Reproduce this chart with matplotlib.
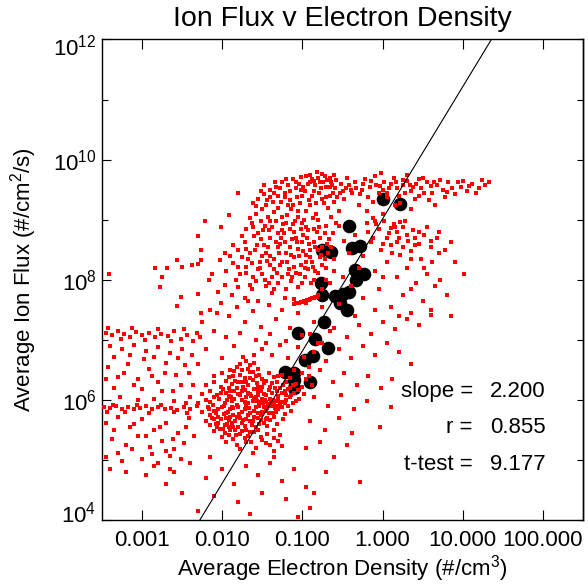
import matplotlib.pyplot as plt
import numpy as np
from matplotlib.ticker import FixedLocator, NullFormatter
from matplotlib.transforms import ScaledTranslation

plt.rcParams["font.family"] = ["Liberation Sans", "DejaVu Sans"]
plt.rcParams["mathtext.fontset"] = "custom"
plt.rcParams["mathtext.rm"] = "Liberation Sans"
plt.rcParams["mathtext.it"] = "Liberation Sans:italic"
plt.rcParams["mathtext.bf"] = "Liberation Sans:bold"

# binned averages (large black dots)
bin_density = [1.02, 1.66, 0.384, 0.176, 0.229, 0.418, 0.526, 0.456, 0.59, 0.469,
               0.171, 0.176, 0.256, 0.323, 0.384, 0.296, 0.362, 0.187, 0.0883, 0.144,
               0.21, 0.136, 0.108, 0.0608, 0.0788, 0.0788, 0.125, 0.0788]
bin_flux = [2.2e9, 1.81e9, 7.8e8, 3.1e8, 2.87e8, 3.35e8, 3.6e8, 1.44e8, 1.24e8, 9.8e7,
            8.7e7, 5.5e7, 5.3e7, 5.7e7, 6.2e7, 4.06e7, 3.1e7, 1.96e7, 1.28e7, 1.02e7,
            7.2e6, 5.3e6, 4.55e6, 2.87e6, 2.77e6, 2.11e6, 1.96e6, 1.55e6]

# fit result
fit_slope = 2.200
fit_log_intercept = 9.014   # log10 flux at density = 1
fit_r = 0.855
fit_ttest = 9.177

# individual samples, read as (log10 density, log10 flux) off the log axes
plume_core = [
    (-1.62, 9.28), (-1.55, 9.35), (-1.48, 9.42), (-1.40, 9.50), (-1.33, 9.55), (-1.25, 9.62),
    (-1.12, 9.68), (-1.02, 9.71), (-0.90, 9.75), (-0.82, 9.80), (-0.75, 9.76), (-0.66, 9.70),
    (-0.58, 9.66), (-1.58, 9.10), (-1.50, 9.18), (-1.43, 9.05), (-1.37, 9.30), (-1.30, 9.20),
    (-1.22, 9.45), (-1.15, 9.33), (-1.08, 9.52), (-1.00, 9.40), (-0.93, 9.60), (-0.86, 9.48),
    (-0.78, 9.62), (-0.70, 9.55), (-0.62, 9.45), (-1.70, 8.85), (-1.63, 8.95), (-1.55, 8.78),
    (-1.47, 8.90), (-1.40, 8.70), (-1.33, 8.98), (-1.26, 8.82), (-1.19, 9.08), (-1.12, 8.92),
    (-1.05, 9.15), (-0.98, 9.00), (-0.90, 9.25), (-0.83, 9.10), (-0.76, 9.35), (-0.68, 9.20),
    (-0.60, 9.30), (-1.80, 8.50), (-1.72, 8.62), (-1.65, 8.45), (-1.57, 8.58), (-1.50, 8.40),
    (-1.43, 8.55), (-1.36, 8.35), (-1.28, 8.60), (-1.21, 8.45), (-1.13, 8.68), (-1.06, 8.52),
    (-0.99, 8.75), (-0.92, 8.60), (-0.85, 8.85), (-0.78, 8.70), (-0.70, 8.90), (-0.62, 8.78),
    (-1.95, 8.15), (-1.86, 8.28), (-1.78, 8.10), (-1.70, 8.22), (-1.62, 8.05), (-1.55, 8.18),
    (-1.47, 8.00), (-1.40, 8.25), (-1.32, 8.12), (-1.25, 8.30), (-1.17, 8.18), (-1.10, 8.38),
    (-1.02, 8.25), (-0.95, 8.42), (-0.88, 8.30), (-0.80, 8.50), (-0.72, 8.35), (-0.64, 8.55),
    (-2.05, 7.80), (-1.97, 7.92), (-1.88, 7.75), (-1.80, 7.88), (-1.72, 7.70), (-1.63, 7.85),
    (-1.55, 7.65), (-1.46, 7.90), (-1.38, 7.78), (-1.30, 7.95), (-1.22, 7.70), (-1.14, 7.98),
    (-1.05, 7.88), (-0.97, 8.05), (-0.89, 7.95), (-0.80, 8.12), (-0.70, 8.00), (-0.60, 8.15),
    (-1.35, 9.12), (-1.18, 9.25), (-1.03, 9.28), (-0.95, 9.15), (-1.27, 8.70), (-1.10, 8.80),
    (-0.96, 8.88), (-1.42, 8.82), (-1.20, 8.95), (-1.06, 9.05), (-0.88, 9.40), (-0.80, 9.00),
    (-1.52, 8.68), (-1.00, 8.62), (-0.88, 9.68), (-0.72, 9.72), (-1.18, 9.58), (-0.64, 9.62),
]
plume_fill = [
    (-1.58, 9.22), (-1.45, 9.25), (-1.30, 9.40), (-1.25, 9.05), (-1.14, 9.18), (-1.07, 9.38),
    (-0.99, 9.55), (-0.92, 9.33), (-0.85, 9.65), (-0.79, 9.45), (-0.73, 9.28), (-0.66, 9.40),
    (-0.59, 9.52), (-0.55, 9.15), (-1.66, 9.02), (-1.52, 8.98), (-1.38, 8.88), (-1.33, 8.62),
    (-1.23, 8.78), (-1.16, 8.55), (-1.09, 8.98), (-1.02, 8.85), (-0.94, 8.70), (-0.87, 9.02),
    (-0.82, 8.80), (-0.75, 8.55), (-0.67, 8.68), (-0.58, 8.95), (-1.76, 8.72), (-1.68, 8.35),
    (-1.60, 8.72), (-1.53, 8.30), (-1.45, 8.45), (-1.38, 8.05), (-1.29, 8.45), (-1.19, 8.30),
    (-1.13, 8.05), (-1.04, 8.40), (-0.97, 8.20), (-0.90, 8.50), (-0.84, 8.15), (-0.76, 8.25),
    (-0.68, 8.45), (-0.60, 8.35), (-1.90, 8.40), (-1.83, 8.00), (-1.75, 8.38), (-1.66, 7.92),
    (-1.58, 7.98), (-1.50, 8.10), (-1.42, 7.95), (-1.35, 7.85), (-1.26, 8.05), (-1.20, 7.85),
    (-1.08, 8.12), (-1.00, 7.95), (-0.93, 8.18), (-0.85, 8.00), (-0.76, 7.85), (-0.66, 7.95),
    (-1.48, 9.58), (-1.40, 9.38), (-1.28, 9.52), (-1.20, 9.68), (-1.08, 9.62), (-0.96, 9.72),
    (-0.84, 9.58), (-0.69, 9.66), (-0.60, 9.74), (-0.53, 9.45),
    (-1.52, 9.48), (-1.44, 9.33), (-1.36, 9.45), (-1.27, 9.30), (-1.16, 9.48), (-1.12, 9.25),
    (-1.04, 9.60), (-0.97, 9.48), (-0.90, 9.62), (-0.83, 9.28), (-0.77, 9.52), (-0.71, 9.38),
    (-0.63, 9.58), (-0.57, 9.38), (-1.62, 8.88), (-1.49, 8.82), (-1.41, 8.98), (-1.31, 8.78),
    (-1.24, 8.92), (-1.15, 8.85), (-1.08, 8.70), (-1.01, 8.95), (-0.93, 8.82), (-0.86, 8.62),
    (-0.79, 8.88), (-0.72, 8.78), (-0.64, 9.05), (-1.70, 8.52), (-1.59, 8.50), (-1.48, 8.58),
    (-1.40, 8.40), (-1.31, 8.55), (-1.22, 8.62), (-1.14, 8.42), (-1.07, 8.62), (-0.99, 8.48),
    (-0.91, 8.38), (-0.84, 8.55), (-0.77, 8.42), (-0.69, 8.60), (-1.80, 8.22), (-1.71, 8.12),
    (-1.63, 8.28), (-1.53, 8.20), (-1.44, 8.32), (-1.35, 8.18), (-1.28, 8.25), (-1.18, 8.10),
    (-1.10, 8.22), (-1.03, 8.10), (-0.95, 8.30), (-0.87, 8.22), (-0.78, 8.38), (-0.70, 8.20),
    (-1.34, 9.62), (-1.02, 9.50), (-0.80, 9.70), (-1.22, 9.38), (-0.74, 9.62), (-0.66, 9.55),
]
plume_band = [
    (-0.52, 9.60), (-0.45, 9.70), (-0.40, 9.50), (-0.35, 9.62), (-0.28, 9.42), (-0.22, 9.68),
    (-0.16, 9.55), (-0.10, 9.72), (-0.05, 9.45), (0.02, 9.62), (0.08, 9.52), (0.14, 9.70),
    (0.20, 9.40), (0.25, 9.58), (0.31, 9.65), (0.36, 9.48), (0.42, 9.60), (0.48, 9.52),
    (0.55, 9.63), (0.62, 9.45), (0.68, 9.58), (0.75, 9.50), (0.82, 9.62), (0.90, 9.42),
    (0.98, 9.55), (1.05, 9.48), (1.12, 9.60), (1.20, 9.52), (1.28, 9.58), (1.33, 9.62),
    (-0.48, 9.35), (-0.30, 9.25), (-0.12, 9.30), (0.05, 9.38), (0.22, 9.28), (0.40, 9.35),
    (0.58, 9.32), (0.78, 9.38), (1.00, 9.65), (0.30, 9.75), (-0.02, 9.78), (0.50, 9.70),
    (-0.50, 9.48), (-0.42, 9.58), (-0.33, 9.52), (-0.25, 9.60), (-0.18, 9.38), (-0.08, 9.58),
    (0.00, 9.50), (0.11, 9.60), (0.18, 9.52), (0.28, 9.44), (0.34, 9.57), (0.45, 9.68),
    (0.52, 9.44), (0.60, 9.56), (0.72, 9.66), (0.86, 9.52), (0.94, 9.62), (1.08, 9.56),
    (1.16, 9.45), (1.24, 9.66), (0.15, 9.25), (0.35, 9.18), (0.65, 9.25), (-0.20, 9.15),
    (0.00, 9.10), (-0.46, 9.52), (-0.38, 9.44), (-0.26, 9.50), (-0.14, 9.64), (-0.03, 9.56),
    (0.06, 9.44), (0.17, 9.62), (0.26, 9.66), (0.38, 9.54), (0.46, 9.40), (0.64, 9.62),
    (0.80, 9.46),
]
right_mid = [
    (-0.20, 8.95), (-0.12, 9.02), (-0.05, 8.85), (0.02, 8.98), (0.08, 8.78), (0.14, 8.92),
    (0.20, 8.70), (0.26, 8.88), (0.32, 8.65), (0.38, 8.82), (0.45, 8.60), (0.52, 8.75),
    (0.60, 8.55), (0.68, 8.70), (0.78, 8.50), (0.85, 8.62), (-0.15, 8.62), (-0.02, 8.50),
    (0.10, 8.58), (0.22, 8.42), (0.35, 8.48), (0.48, 8.35), (0.62, 8.30), (-0.25, 8.40),
    (0.05, 8.30), (0.30, 8.20), (0.55, 8.10), (-0.10, 8.15), (0.18, 8.05), (0.42, 7.95),
    (0.65, 7.90), (-0.05, 7.85), (0.25, 7.75), (0.50, 7.65), (0.10, 7.55), (0.35, 7.45),
    (0.60, 7.50), (0.85, 7.40), (0.72, 8.00), (0.90, 8.30), (1.02, 8.10), (0.15, 8.88),
    (-0.55, 8.90), (-0.48, 8.65), (-0.42, 8.45), (-0.35, 8.75), (-0.30, 8.20), (-0.50, 8.05),
    (-0.40, 7.90), (-0.25, 7.70), (-0.55, 7.60), (-0.35, 7.40), (-0.08, 8.92), (0.05, 8.70),
    (0.18, 8.80), (0.28, 8.98), (0.40, 8.70), (0.55, 8.88), (0.70, 8.80), (-0.18, 8.80),
    (0.12, 8.45), (0.40, 8.58), (0.25, 8.55), (0.70, 8.45), (0.00, 8.05), (0.35, 7.85),
    (0.80, 7.75), (0.20, 7.40), (-0.10, 7.50), (0.52, 8.20), (-0.10, 8.98), (0.10, 8.86),
    (0.22, 8.96), (0.30, 8.75), (0.45, 8.80), (-0.12, 8.70), (0.00, 8.60), (0.18, 8.62),
    (0.35, 8.35), (0.60, 8.65),
]
plume_lower = [
    (-2.15, 7.50), (-2.02, 7.62), (-1.92, 7.40), (-1.82, 7.55), (-1.72, 7.30), (-1.62, 7.48),
    (-1.52, 7.22), (-1.42, 7.58), (-1.33, 7.35), (-1.25, 7.50), (-1.15, 7.20), (-1.05, 7.45),
    (-0.95, 7.62), (-0.85, 7.30), (-0.75, 7.55), (-0.65, 7.15), (-2.10, 7.15), (-1.95, 7.05),
    (-1.78, 7.12), (-1.58, 7.00), (-1.40, 7.10), (-1.20, 6.98), (-1.00, 7.08), (-0.80, 6.95),
    (-2.25, 7.30), (-1.68, 7.65), (-1.10, 7.68), (-1.50, 6.85), (-1.38, 6.75), (-1.28, 6.92),
    (-1.18, 6.70), (-1.05, 6.88), (-0.98, 6.72), (-1.60, 6.75), (-1.45, 6.95), (-2.00, 6.70),
    (-2.20, 6.85), (-1.85, 6.90),
]
upper_left = [
    (-1.80, 9.44), (-1.92, 9.08), (-2.02, 8.88), (-2.21, 8.98), (-2.30, 8.73), (-2.26, 8.49),
    (-2.57, 8.33), (-2.50, 8.21), (-2.84, 8.19), (-2.75, 8.05), (-3.41, 8.10), (-2.38, 8.24),
    (-2.30, 8.27), (-2.26, 8.33), (-2.52, 7.71), (-2.57, 7.56), (-2.30, 7.77), (-2.17, 7.99),
    (-2.13, 8.10), (-2.03, 8.33), (-1.97, 8.44), (-1.86, 8.58), (-2.78, 7.88), (-2.69, 8.19),
    (-2.26, 7.44), (-2.07, 7.44),
]
left_bands = [
    (-3.45, 7.12), (-3.38, 7.08), (-3.30, 7.15), (-3.22, 7.10), (-3.15, 7.05), (-3.08, 7.13),
    (-3.00, 7.08), (-2.92, 7.12), (-2.84, 7.04), (-2.76, 7.10), (-2.68, 7.06), (-2.60, 7.14),
    (-2.52, 7.02), (-2.44, 7.08), (-2.36, 6.98), (-2.28, 7.05), (-3.40, 6.90), (-3.25, 6.85),
    (-3.10, 6.92), (-2.95, 6.82), (-2.80, 6.88), (-2.65, 6.78), (-2.50, 6.85), (-2.38, 6.75),
    (-3.42, 6.55), (-3.30, 6.38), (-3.18, 6.60), (-3.05, 6.35), (-2.92, 6.52), (-2.80, 6.30),
    (-2.70, 6.62), (-2.58, 6.42), (-2.46, 6.58), (-2.36, 6.25), (-3.35, 6.20), (-3.00, 6.18),
    (-2.62, 6.15), (-3.48, 5.88), (-3.40, 5.86), (-3.32, 5.89), (-3.25, 5.85), (-3.18, 5.88),
    (-3.10, 5.84), (-3.02, 5.87), (-2.95, 5.90), (-2.88, 5.85), (-2.80, 5.88), (-2.72, 5.84),
    (-2.64, 5.87), (-2.56, 5.83), (-2.48, 5.88), (-2.40, 5.85), (-2.32, 5.90), (-3.45, 5.62),
    (-3.30, 5.72), (-3.15, 5.55), (-3.00, 5.68), (-2.85, 5.50), (-2.70, 5.62), (-2.55, 5.45),
    (-2.42, 5.70), (-3.38, 5.35), (-3.20, 5.25), (-3.05, 5.40), (-2.90, 5.22), (-2.75, 5.32),
    (-2.60, 5.18), (-2.48, 5.28), (-3.45, 5.05), (-3.25, 4.98), (-3.00, 5.02), (-2.80, 4.95),
    (-2.65, 5.06), (-3.40, 4.85), (-2.95, 4.75),
    (-3.42, 7.20), (-3.26, 7.02), (-3.12, 7.20), (-2.96, 7.00), (-2.80, 7.18), (-2.64, 6.98),
    (-2.48, 7.18), (-2.32, 7.12), (-3.35, 6.72), (-3.15, 6.75), (-2.98, 6.68), (-2.85, 6.72),
    (-2.72, 6.45), (-2.55, 6.70), (-2.42, 6.45), (-2.30, 6.60), (-3.45, 6.35), (-3.22, 6.45),
    (-3.10, 6.25), (-2.88, 6.40), (-2.75, 6.15), (-2.52, 6.25), (-2.40, 6.05), (-3.28, 6.05),
    (-3.05, 6.00), (-2.85, 6.02), (-2.60, 5.98), (-2.45, 5.95), (-3.44, 5.80), (-3.36, 5.92),
    (-3.21, 5.80), (-3.06, 5.92), (-2.91, 5.78), (-2.76, 5.92), (-2.60, 5.80), (-2.44, 5.78),
    (-3.35, 5.50), (-3.10, 5.60), (-2.95, 5.40), (-2.78, 5.55), (-2.62, 5.35), (-2.45, 5.55),
    (-2.35, 5.40), (-3.30, 5.12), (-3.12, 5.18), (-2.88, 5.10), (-2.70, 5.15), (-2.52, 5.02),
    (-3.20, 4.80), (-2.65, 4.85),
]
dense_core = [
    (-1.74, 6.72), (-1.70, 6.65), (-1.78, 6.60), (-1.66, 6.58), (-1.82, 6.55), (-1.60, 6.62),
    (-1.90, 6.50), (-1.55, 6.52), (-2.10, 6.40), (-2.00, 6.45), (-1.92, 6.38), (-1.85, 6.48),
    (-1.78, 6.42), (-1.72, 6.36), (-1.65, 6.46), (-1.58, 6.40), (-1.50, 6.35), (-1.42, 6.44),
    (-1.35, 6.38), (-1.25, 6.42), (-1.15, 6.36), (-2.20, 6.25), (-2.10, 6.30), (-2.02, 6.22),
    (-1.95, 6.32), (-1.88, 6.26), (-1.81, 6.20), (-1.75, 6.30), (-1.68, 6.24), (-1.62, 6.33),
    (-1.55, 6.21), (-1.48, 6.28), (-1.40, 6.22), (-1.32, 6.30), (-1.24, 6.24), (-1.16, 6.20),
    (-1.08, 6.27), (-1.00, 6.22), (-2.25, 6.10), (-2.15, 6.15), (-2.07, 6.08), (-1.99, 6.18),
    (-1.92, 6.06), (-1.85, 6.14), (-1.78, 6.08), (-1.72, 6.17), (-1.65, 6.10), (-1.58, 6.05),
    (-1.52, 6.15), (-1.45, 6.08), (-1.38, 6.12), (-1.30, 6.06), (-1.22, 6.14), (-1.14, 6.08),
    (-1.05, 6.16), (-0.98, 6.10), (-2.30, 5.95), (-2.20, 6.00), (-2.12, 5.92), (-2.04, 6.02),
    (-1.96, 5.95), (-1.89, 6.04), (-1.82, 5.92), (-1.75, 6.00), (-1.68, 5.94), (-1.61, 6.03),
    (-1.54, 5.96), (-1.47, 5.99), (-1.43, 5.93), (-1.39, 5.96), (-1.36, 5.90), (-1.33, 5.98),
    (-1.28, 5.93), (-1.20, 6.00), (-1.12, 5.95), (-1.04, 6.02), (-2.25, 5.80), (-2.16, 5.85),
    (-2.08, 5.78), (-2.00, 5.88), (-1.93, 5.80), (-1.86, 5.86), (-1.79, 5.76), (-1.72, 5.84),
    (-1.65, 5.78), (-1.58, 5.88), (-1.51, 5.80), (-1.44, 5.86), (-1.37, 5.78), (-1.30, 5.84),
    (-1.22, 5.76), (-1.14, 5.82), (-2.20, 5.65), (-2.13, 5.70), (-2.08, 5.60), (-2.02, 5.68),
    (-1.97, 5.58), (-1.92, 5.66), (-1.87, 5.55), (-1.82, 5.72), (-1.76, 5.62), (-1.70, 5.68),
    (-1.63, 5.58), (-1.56, 5.70), (-1.48, 5.62), (-1.40, 5.66), (-1.32, 5.60), (-1.24, 5.68),
    (-2.10, 5.48), (-2.03, 5.52), (-1.96, 5.45), (-1.90, 5.50), (-1.83, 5.42), (-1.76, 5.48),
    (-1.68, 5.40), (-1.60, 5.46), (-1.52, 5.38), (-1.44, 5.44), (-1.36, 5.36), (-1.28, 5.42),
    (-1.95, 5.30), (-1.82, 5.25), (-1.70, 5.30), (-1.58, 5.20), (-1.46, 5.28), (-1.35, 5.15),
    (-1.25, 5.24), (-1.62, 5.12), (-1.10, 6.50), (-1.00, 6.45), (-0.92, 6.55), (-0.95, 6.35),
    (-0.88, 6.25),
]
core_fill = [
    (-1.76, 6.50), (-1.68, 6.52), (-1.62, 6.47), (-1.86, 6.40), (-1.70, 6.30), (-1.57, 6.28),
    (-1.45, 6.32), (-1.30, 6.40), (-1.20, 6.30), (-1.92, 6.20), (-1.84, 6.32), (-1.74, 6.22),
    (-1.60, 6.18), (-1.50, 6.22), (-1.42, 6.16), (-1.34, 6.20), (-1.26, 6.12), (-1.18, 6.18),
    (-1.10, 6.12), (-2.10, 6.05), (-1.95, 6.12), (-1.88, 5.98), (-1.80, 6.10), (-1.70, 6.04),
    (-1.62, 5.98), (-1.55, 6.08), (-1.49, 5.94), (-1.41, 6.02), (-1.35, 5.95), (-1.31, 6.00),
    (-1.25, 5.97), (-1.16, 6.05), (-1.08, 5.98), (-2.18, 5.88), (-2.05, 5.85), (-1.98, 5.90),
    (-1.90, 5.84), (-1.80, 5.88), (-1.70, 5.90), (-1.60, 5.82), (-1.54, 5.90), (-1.46, 5.82),
    (-1.40, 5.90), (-1.34, 5.86), (-1.26, 5.88), (-1.18, 5.90), (-2.15, 5.75), (-2.05, 5.72),
    (-1.98, 5.76), (-1.90, 5.72), (-1.84, 5.65), (-1.78, 5.70), (-1.68, 5.74), (-1.60, 5.72),
    (-1.52, 5.74), (-1.44, 5.70), (-1.35, 5.72), (-2.15, 5.58), (-2.05, 5.62), (-1.99, 5.52),
    (-1.94, 5.60), (-1.88, 5.62), (-1.80, 5.55), (-1.72, 5.56), (-1.66, 5.64), (-1.58, 5.55),
    (-1.52, 5.66), (-1.44, 5.56), (-1.36, 5.50), (-2.00, 5.38), (-1.86, 5.35), (-1.72, 5.36),
    (-1.64, 5.30), (-1.50, 5.34), (-1.40, 5.25), (-1.30, 5.32), (-1.78, 5.18),
    (-1.80, 6.30), (-1.66, 6.36), (-1.54, 6.42), (-1.38, 6.28), (-1.28, 6.20), (-1.12, 6.24),
    (-2.02, 6.12), (-1.90, 6.14), (-1.76, 6.14), (-1.68, 6.12), (-1.56, 6.14), (-1.48, 6.10),
    (-1.32, 6.14), (-1.20, 6.08), (-2.15, 5.96), (-1.94, 6.00), (-1.85, 6.02), (-1.72, 5.96),
    (-1.64, 6.06), (-1.57, 5.98), (-1.50, 6.02), (-1.45, 5.97), (-1.41, 5.93), (-1.37, 6.00),
    (-1.30, 5.90), (-1.22, 5.95), (-2.10, 5.82), (-1.95, 5.78), (-1.88, 5.88), (-1.76, 5.80),
    (-1.67, 5.86), (-1.56, 5.78), (-1.48, 5.88), (-1.42, 5.78), (-1.33, 5.80), (-2.10, 5.68),
    (-1.95, 5.70), (-1.86, 5.75), (-1.74, 5.66), (-1.62, 5.64), (-1.54, 5.60), (-1.46, 5.68),
    (-2.07, 5.55), (-1.92, 5.55), (-1.84, 5.50), (-1.70, 5.50), (-1.56, 5.50), (-1.92, 5.42),
    (-1.78, 5.44), (-1.66, 5.46),
]
trail = [
    (-1.10, 7.60), (-1.08, 7.61), (-1.06, 7.61), (-1.04, 7.62), (-1.02, 7.63), (-1.00, 7.63),
    (-0.98, 7.64), (-0.96, 7.65), (-0.94, 7.66), (-0.92, 7.67), (-0.90, 7.68), (-0.88, 7.69),
    (-0.86, 7.70), (-0.84, 7.71), (-0.82, 7.72), (-0.80, 7.74),
]
bottom_sparse = [
    (-2.85, 4.90), (-2.60, 4.80), (-2.40, 4.95), (-2.20, 4.70), (-2.00, 4.85), (-1.85, 4.60),
    (-1.70, 4.90), (-1.55, 4.75), (-1.40, 4.95), (-1.25, 4.65), (-1.10, 4.85), (-0.95, 4.55),
    (-2.50, 4.45), (-2.10, 4.40), (-1.80, 4.30), (-1.50, 4.45), (-1.20, 4.35), (-0.90, 4.20),
    (-2.30, 4.15), (-1.65, 4.10), (-1.05, 4.05), (-2.70, 4.60), (-1.35, 5.05), (-2.15, 5.05),
]
right_sparse = [
    (-0.90, 7.10), (-0.75, 6.95), (-0.60, 7.20), (-0.45, 7.05), (-0.30, 7.25), (-0.15, 7.10),
    (0.00, 7.30), (0.15, 7.18), (0.30, 7.35), (0.45, 7.25), (0.60, 7.42), (-0.85, 6.80),
    (-0.70, 6.65), (-0.55, 6.85), (-0.40, 6.70), (-0.25, 6.90), (-0.10, 6.75), (0.05, 6.95),
    (0.20, 6.80), (0.35, 6.60), (-0.92, 6.40), (-0.78, 6.50), (-0.62, 6.30), (-0.48, 6.45),
    (-0.32, 6.25), (-0.18, 6.40), (-0.02, 6.20), (0.12, 6.35), (-0.85, 6.05), (-0.68, 5.90),
    (-0.52, 6.08), (-0.36, 5.85), (-0.20, 5.98), (0.10, 5.88), (-0.90, 5.65), (-0.72, 5.50),
    (-0.55, 5.70), (-0.38, 5.45), (-0.03, 5.54), (-0.95, 5.20), (-0.78, 5.30), (-0.60, 5.05),
    (-0.45, 5.25), (-0.28, 4.63), (-0.70, 4.80), (-0.85, 4.45),
]

x_ticks = [1e-3, 1e-2, 1e-1, 1e0, 1e1, 1e2]
x_tick_labels = ["0.001", "0.010", "0.100", "1.000", "10.000", "100.000"]
y_ticks = [1e4, 1e6, 1e8, 1e10, 1e12]
y_tick_labels = [r"$\mathregular{10^{4}}$", r"$\mathregular{10^{6}}$", r"$\mathregular{10^{8}}$",
                 r"$\mathregular{10^{10}}$", r"$\mathregular{10^{12}}$"]
y_minor = [1e5, 1e7, 1e9, 1e11]
x_lim = (10 ** -3.5, 10 ** 2.5)
y_lim = (1e4, 1e12)

fig = plt.figure(figsize=(5.88, 5.84), dpi=100)
ax = fig.add_axes([0.1735, 0.1096, 0.818, 0.8228])
ax.set_xscale("log")
ax.set_yscale("log")

ax.plot(bin_density, bin_flux, "o", color="black", ms=9.8, mew=0, zorder=2)

cloud = np.array(plume_core + plume_fill + plume_band + right_mid + plume_lower + upper_left
                 + left_bands + dense_core + core_fill + trail + bottom_sparse + right_sparse)
ax.plot(10 ** cloud[:, 0], 10 ** cloud[:, 1], "s", color="#ff0000", ms=2.2, mew=0, zorder=3)

fit_x = np.array(x_lim)
fit_y = 10 ** (fit_log_intercept + fit_slope * np.log10(fit_x))
ax.plot(fit_x, fit_y, color="black", lw=0.8, zorder=4)

ax.set_xlim(*x_lim)
ax.set_ylim(*y_lim)

ax.xaxis.set_major_locator(FixedLocator(x_ticks))
ax.xaxis.set_minor_locator(FixedLocator([]))
ax.set_xticklabels(x_tick_labels)
ax.yaxis.set_major_locator(FixedLocator(y_ticks))
ax.yaxis.set_minor_locator(FixedLocator(y_minor))
ax.yaxis.set_minor_formatter(NullFormatter())
ax.set_yticklabels(y_tick_labels)

ax.tick_params(axis="x", which="major", direction="in", length=7, width=0.8,
               top=True, labelsize=16, pad=7.5)
ax.tick_params(axis="y", which="major", direction="in", length=6.5, width=0.8,
               right=False, labelsize=16, pad=4)
ax.tick_params(axis="y", which="minor", direction="in", length=4.5, width=0.8, right=False)
right = ax.secondary_yaxis("right")
right.yaxis.set_major_locator(FixedLocator(y_ticks + y_minor))
right.yaxis.set_minor_locator(FixedLocator([]))
right.tick_params(direction="in", length=4, width=0.8, labelright=False)
right.spines["right"].set_linewidth(1.0)
for s in ax.spines.values():
    s.set_linewidth(1.0)

# IDL keeps the end labels inside the axis span
ticks = ax.yaxis.get_major_ticks()
lab_lo, lab_hi = ticks[0].label1, ticks[-1].label1
lab_lo.set_transform(lab_lo.get_transform() + ScaledTranslation(0, 0.075, fig.dpi_scale_trans))
lab_hi.set_transform(lab_hi.get_transform() + ScaledTranslation(0, -0.06, fig.dpi_scale_trans))

ax.set_title("Ion Flux v Electron Density", fontsize=20.5, pad=10)
ax.set_xlabel(r"Average Electron Density (#/cm$^\mathregular{3}$)", fontsize=16)
ax.xaxis.set_label_coords(0.5, -0.069)
ax.set_ylabel(r"Average Ion Flux (#/cm$^\mathregular{2}$/s)", fontsize=16)
ax.yaxis.set_label_coords(-0.132, 0.5)

stats = [("slope", fit_slope), ("r", fit_r), ("t-test", fit_ttest)]
rows_y = [0.256, 0.181, 0.104]
for (name, val), yy in zip(stats, rows_y):
    ax.text(0.771, yy, f"{name} =", transform=ax.transAxes, ha="right", va="baseline", fontsize=16)
    ax.text(0.807, yy, f"{val:.3f}", transform=ax.transAxes, ha="left", va="baseline", fontsize=16)

fig.savefig("out.png", dpi=100)
